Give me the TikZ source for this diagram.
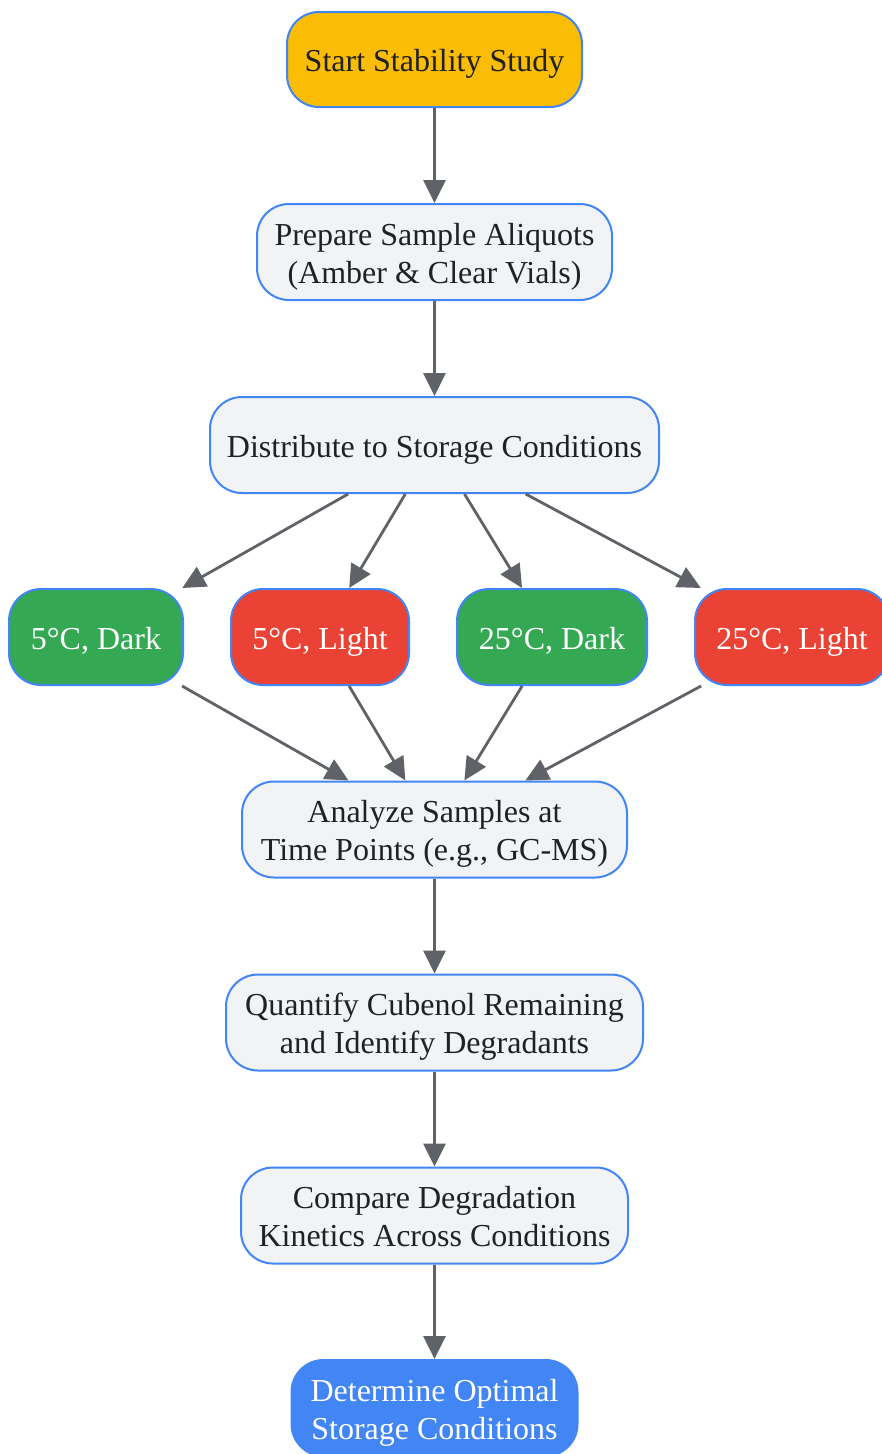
\documentclass[tikz,border=0pt]{standalone}
\usepackage{fontspec}
\setmainfont{Liberation Serif}
\usetikzlibrary{arrows.meta}
\definecolor{byellow}{HTML}{FBBC04}
\definecolor{bgreen}{HTML}{34A853}
\definecolor{bred}{HTML}{EA4335}
\definecolor{bblue}{HTML}{4285F4}
\definecolor{gfill}{HTML}{F1F3F4}
\definecolor{tdark}{HTML}{202124}
\definecolor{agray}{HTML}{5F6368}
\newcommand\mystrut{\rule[-7pt]{0pt}{38pt}}
\begin{document}
\begin{tikzpicture}[x=1pt,y=-1pt,
  box/.style={draw=bblue, line width=2pt, rounded corners=32pt, minimum height=96pt,
    inner sep=0pt, align=center, font=\fontsize{32}{38}\selectfont, text=tdark, fill=gfill},
  yellowbox/.style={box, fill=byellow},
  greenbox/.style={box, fill=bgreen, text=white},
  redbox/.style={box, fill=bred, text=white},
  bluebox/.style={box, fill=bblue, text=white},
  arr/.style={draw=agray, line width=2.8pt, -{Triangle[length=23pt,width=22pt]}}]
\useasboundingbox (0,0) rectangle (881,1454);

\node[yellowbox, minimum width=295pt, minimum height=95pt] (start) at (434.5,59.5) {\mystrut Start Stability Study};
\node[box, minimum width=355pt] (prep) at (434.5,252) {\mystrut Prepare Sample Aliquots\\\mystrut(Amber \& Clear Vials)};
\node[box, minimum width=449pt] (dist) at (434.5,445) {\mystrut Distribute to Storage Conditions};
\node[greenbox, minimum width=174pt] (d5) at (96,637) {\mystrut 5°C, Dark};
\node[redbox, minimum width=178pt] (l5) at (320,637) {\mystrut 5°C, Light};
\node[greenbox, minimum width=190pt] (d25) at (552,637) {\mystrut 25°C, Dark};
\node[redbox, minimum width=194pt] (l25) at (792,637) {\mystrut 25°C, Light};
\node[box, minimum width=385pt] (anal) at (434.5,829.5) {\mystrut Analyze Samples at\\\mystrut Time Points (e.g., GC-MS)};
\node[box, minimum width=417pt] (quant) at (434.5,1022.5) {\mystrut Quantify Cubenol Remaining\\\mystrut and Identify Degradants};
\node[box, minimum width=387pt] (comp) at (434.5,1215.5) {\mystrut Compare Degradation\\\mystrut Kinetics Across Conditions};
\node[bluebox, minimum width=286pt] (det) at (434.5,1408) {\mystrut Determine Optimal\\\mystrut Storage Conditions};

\draw[arr] (start) -- (prep);
\draw[arr] (prep) -- (dist);
\draw[arr] (dist) -- (d5);
\draw[arr] (dist) -- (l5);
\draw[arr] (dist) -- (d25);
\draw[arr] (dist) -- (l25);
\draw[arr] (d5) -- (anal);
\draw[arr] (l5) -- (anal);
\draw[arr] (d25) -- (anal);
\draw[arr] (l25) -- (anal);
\draw[arr] (anal) -- (quant);
\draw[arr] (quant) -- (comp);
\draw[arr] (comp) -- (det);
\end{tikzpicture}
\end{document}
